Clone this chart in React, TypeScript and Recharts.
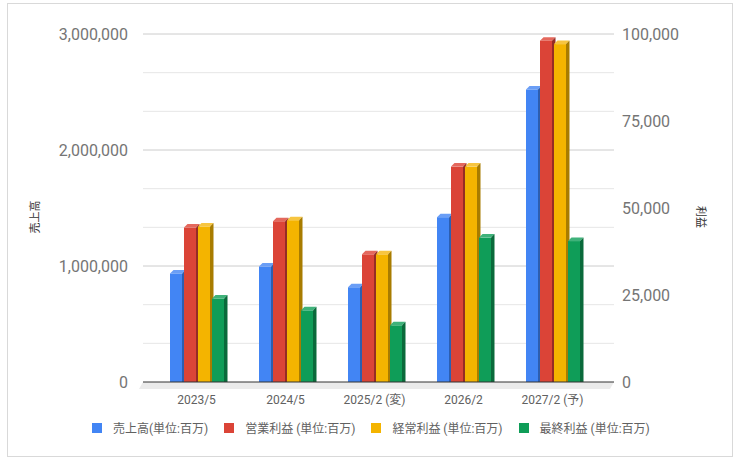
import { BarChart, Bar, XAxis, YAxis, CartesianGrid, ReferenceLine, Legend } from 'recharts';

const periods = ['2023/5', '2024/5', '2025/2 (変)', '2026/2', '2027/2 (予)'];
const sales = [966000, 1026000, 847000, 1451000, 2552000];
const operatingProfit = [45400, 47200, 37700, 62900, 99100];
const ordinaryProfit = [45700, 47500, 37700, 62900, 98100];
const netProfit = [25000, 21600, 17300, 42500, 41500];

const salesTicks = [0, 333333, 666667, 1000000, 1333333, 1666667, 2000000, 2333333, 2666667, 3000000];
const profitTicks = [0, 25000, 50000, 75000, 100000];

const series = [
  { key: 'sales', name: '売上高(単位:百万)', axis: 'left', front: '#4285f4', top: '#6a9ef6', side: '#2d5eb0' },
  { key: 'op', name: '営業利益 (単位:百万)', axis: 'right', front: '#db4437', top: '#e4685d', side: '#952c24' },
  { key: 'ord', name: '経常利益 (単位:百万)', axis: 'right', front: '#f4b400', top: '#f7c540', side: '#a87c00' },
  { key: 'net', name: '最終利益 (単位:百万)', axis: 'right', front: '#0f9d58', top: '#3fb27a', side: '#0a6a3b' },
];

const data = periods.map((p, i) => ({
  period: p,
  sales: sales[i],
  op: operatingProfit[i],
  ord: ordinaryProfit[i],
  net: netProfit[i],
}));

const D = 3.5;
const FONT = 'Roboto, "Noto Sans CJK JP", sans-serif';

function Bar3D(props: any) {
  const { x, y, width: w, height: h, colors } = props;
  if (h == null || h <= 0) return null;
  return (
    <g>
      <rect x={x} y={y + D} width={w} height={h} fill={colors.front} />
      <polygon
        points={`${x},${y + D} ${x + D},${y} ${x + w + D},${y} ${x + w},${y + D}`}
        fill={colors.top}
      />
      <polygon
        points={`${x + w},${y + D} ${x + w + D},${y} ${x + w + D},${y + h} ${x + w},${y + h + D}`}
        fill={colors.side}
      />
    </g>
  );
}

function Floor(props: any) {
  const { x1, y1, x2 } = props;
  return (
    <g>
      <polygon
        points={`${x1},${y1} ${x2},${y1} ${x2 - 4},${y1 + 7} ${x1 - 4},${y1 + 7}`}
        fill="#ebebeb"
      />
      <line x1={x1} y1={y1} x2={x2} y2={y1} stroke="#333" strokeWidth={1} />
    </g>
  );
}

function GridLine(props: any) {
  const { x1, x2, y1, index } = props;
  if (index === 0) return null;
  return (
    <line x1={x1} x2={x2} y1={y1} y2={y1} stroke={index % 3 === 0 ? '#cccccc' : '#e6e6e6'} strokeWidth={1} />
  );
}

function LegendBox() {
  return (
    <div style={{ display: 'flex', gap: 16, fontFamily: FONT, fontSize: 12, color: '#616161' }}>
      {series.map((s) => (
        <div key={s.key} style={{ display: 'flex', alignItems: 'center', gap: 11 }}>
          <span style={{ width: 10, height: 10, background: s.front, display: 'inline-block' }} />
          <span>{s.name}</span>
        </div>
      ))}
    </div>
  );
}

const titleStyle = { fontFamily: FONT, fontSize: 11, fill: '#333333', stroke: 'none' };

export default function App() {
  const tickStyle = { fontFamily: FONT, fontSize: 16, fill: '#757575' };
  return (
    <div style={{ position: 'absolute', left: 0, top: 0, width: 738, height: 461 }}>
      <div
        style={{
          position: 'absolute',
          left: 7,
          top: 3,
          width: 726,
          height: 454,
          border: '1px solid #d9d9d9',
          boxSizing: 'border-box',
        }}
      />
      <BarChart
        width={738}
        height={461}
        data={data}
        margin={{ top: 34, right: 0, bottom: 49, left: 0 }}
        barSize={12}
        barGap={2}
      >
        <CartesianGrid yAxisId="left" vertical={false} horizontal={(p: any) => <GridLine {...p} />} />
        <XAxis
          dataKey="period"
          height={30}
          axisLine={false}
          tickLine={false}
          tickSize={0}
          tickMargin={13}
          padding={{ left: 9, right: 17 }}
          tick={{ fontFamily: FONT, fontSize: 12, fill: '#616161' }}
        />
        <YAxis
          yAxisId="left"
          width={143}
          domain={[0, 3000000]}
          ticks={salesTicks}
          interval={0}
          axisLine={false}
          tickLine={false}
          tickSize={0}
          tickMargin={15}
          tick={tickStyle}
          tickFormatter={(v: number) => (v % 1000000 === 0 ? v.toLocaleString('en-US') : '')}
          label={{
            value: '売上高',
            angle: -90,
            position: 'center',
            dx: -36,
            dy: 9,
            fill: '#333333',
            stroke: 'none',
            style: titleStyle,
          }}
        />
        <YAxis
          yAxisId="right"
          orientation="right"
          width={124}
          domain={[0, 100000]}
          ticks={profitTicks}
          interval={0}
          axisLine={false}
          tickLine={false}
          tickSize={0}
          tickMargin={8}
          tick={tickStyle}
          tickFormatter={(v: number) => v.toLocaleString('en-US')}
          label={{
            value: '利益',
            angle: 90,
            position: 'center',
            dx: 25,
            dy: 9,
            fill: '#333333',
            stroke: 'none',
            style: titleStyle,
          }}
        />
        <ReferenceLine yAxisId="left" y={0} shape={(p: any) => <Floor {...p} />} />
        <Legend
          layout="horizontal"
          verticalAlign="middle"
          align="center"
          wrapperStyle={{ top: 419, left: 92, width: 'auto' }}
          content={() => <LegendBox />}
        />
        {series.map((s) => (
          <Bar
            key={s.key}
            dataKey={s.key}
            name={s.name}
            yAxisId={s.axis}
            fill={s.front}
            isAnimationActive={false}
            shape={(p: any) => <Bar3D {...p} colors={s} />}
          />
        ))}
      </BarChart>
    </div>
  );
}
